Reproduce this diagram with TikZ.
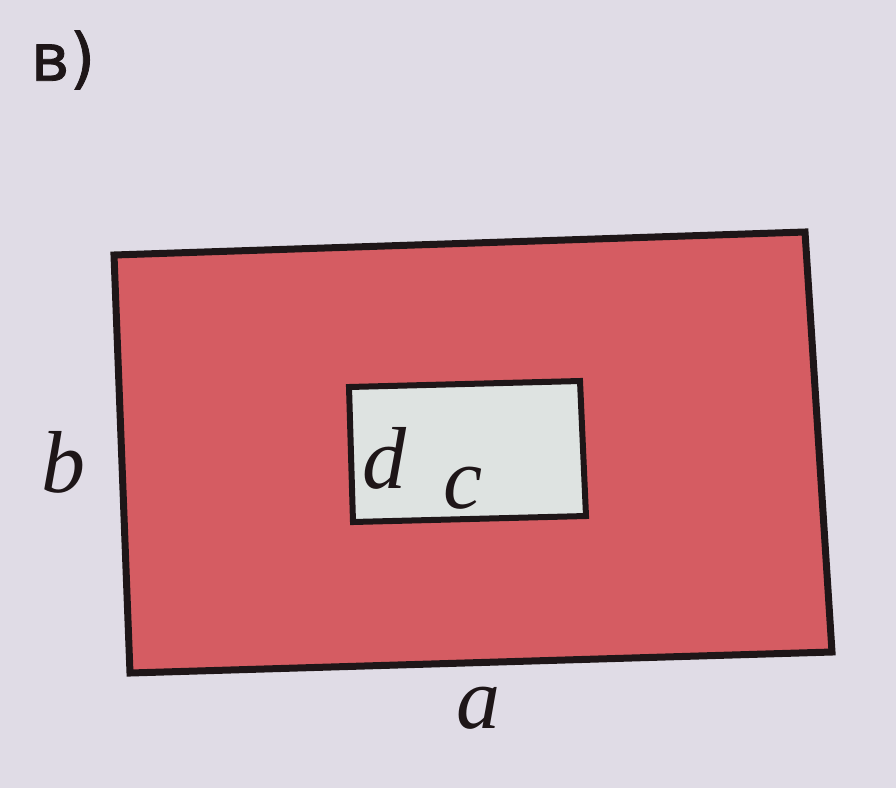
\documentclass[tikz,border=0pt]{standalone}
\usepackage{fontspec}
\newfontfamily\labfont[FakeBold=1.2]{DejaVu Sans}
\newfontfamily\itfont{Liberation Serif}
\definecolor{paper}{RGB}{224,220,230}
\definecolor{redfill}{RGB}{213,92,98}
\definecolor{innerfill}{RGB}{222,227,225}
\definecolor{edge}{RGB}{30,22,24}
\tikzset{
  mathlabel/.style={font=\fontsize{88}{90}\selectfont\itfont\itshape, text=edge, inner sep=0pt},
  shapeedge/.style={draw=edge, line width=7pt, line join=miter}
}
\begin{document}
\begin{tikzpicture}[x=1pt,y=-1pt]
\fill[paper] (0,0) rectangle (896,788);
\useasboundingbox (0,0) rectangle (896,788);
% outer rectangle
\coordinate (o1) at (114,255);
\coordinate (o2) at (805,232);
\coordinate (o3) at (832,652);
\coordinate (o4) at (130,673);
\filldraw[shapeedge, fill=redfill] (o1) -- (o2) -- (o3) -- (o4) -- cycle;
% inner rectangle
\coordinate (i1) at (349,387);
\coordinate (i2) at (580,381);
\coordinate (i3) at (586,516);
\coordinate (i4) at (353,522);
\filldraw[shapeedge, line width=6pt, fill=innerfill] (i1) -- (i2) -- (i3) -- (i4) -- cycle;
% labels
\node[font=\fontsize{66}{68}\selectfont\labfont, text=edge, inner sep=0pt] (lbl) at (63,60) {в)};
\node[mathlabel] (b) at (63,462) {b};
\node[mathlabel] (a) at (478,708) {a};
\node[mathlabel] (d) at (384,458) {d};
\node[mathlabel] (c) at (463,488) {c};
\end{tikzpicture}
\end{document}
